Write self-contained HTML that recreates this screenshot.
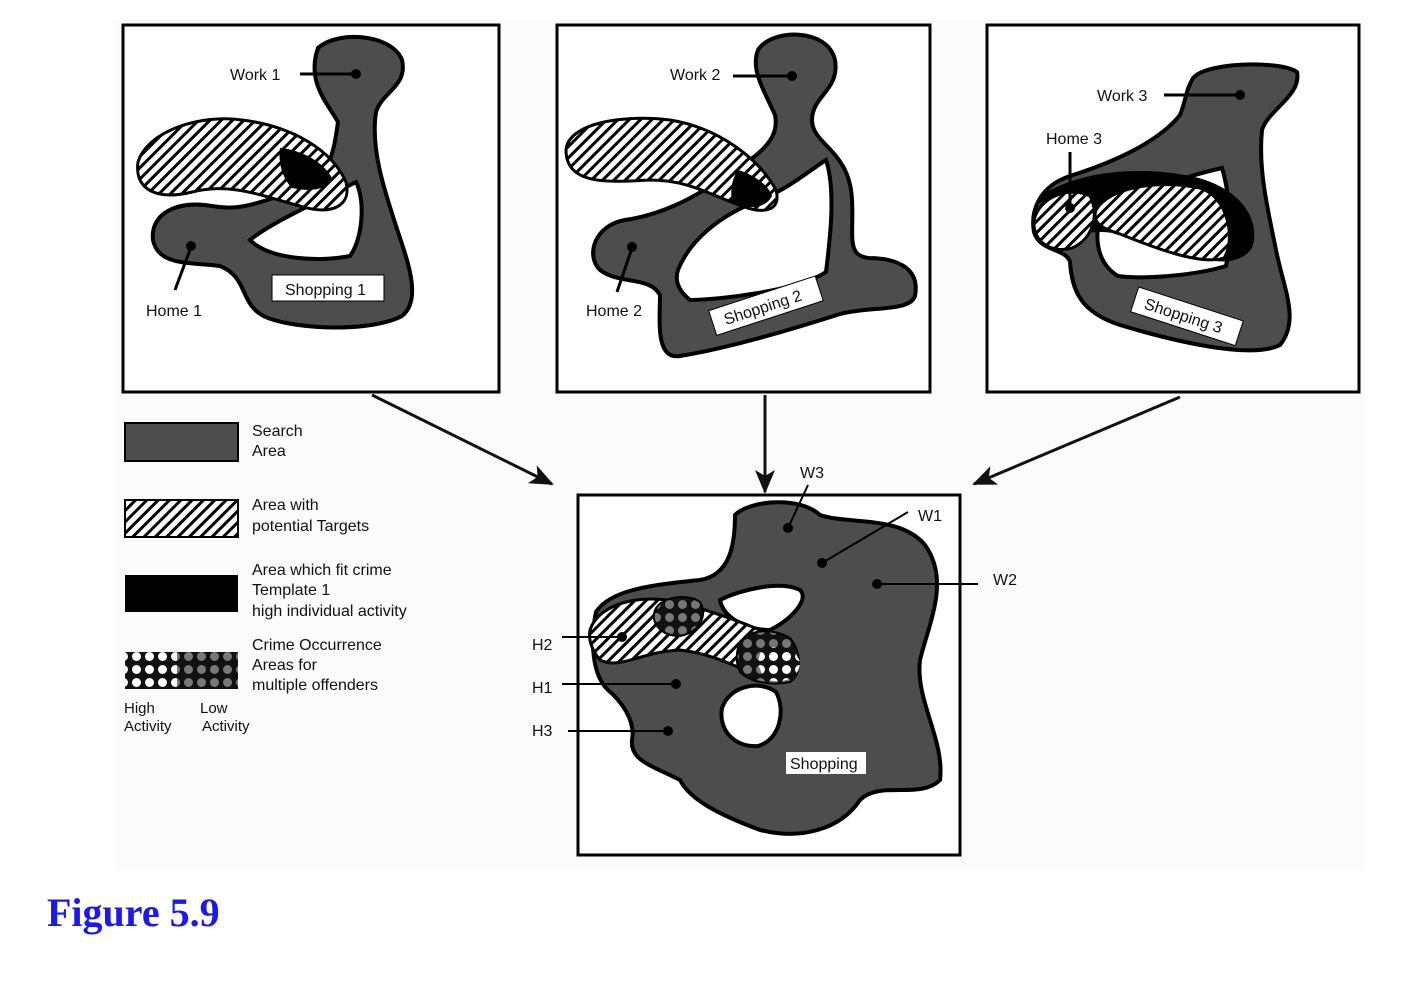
<!DOCTYPE html>
<html><head><meta charset="utf-8"><style>
html,body{margin:0;padding:0;background:#fff;}
svg text{font-family:"Liberation Sans",sans-serif;font-size:16px;fill:#111;}
.cap{font-family:"Liberation Serif",serif;font-weight:bold;font-size:40px;fill:#1a1aee;}
</style></head><body>
<svg width="1420" height="980" viewBox="0 0 1420 980" xmlns="http://www.w3.org/2000/svg">
<defs>
<pattern id="hatch" width="8" height="8" patternUnits="userSpaceOnUse" patternTransform="rotate(45)">
<rect width="8" height="8" fill="#fff"/><rect width="3" height="8" fill="#000"/>
</pattern>
<pattern id="dots" width="13" height="13" patternUnits="userSpaceOnUse">
<rect width="13" height="13" fill="#111"/><circle cx="6.5" cy="6.5" r="4.5" fill="#777"/>
</pattern>
<pattern id="wdots" width="13" height="13" patternUnits="userSpaceOnUse">
<rect width="13" height="13" fill="#111"/><circle cx="6.5" cy="6.5" r="4.5" fill="#fff"/>
</pattern>
<marker id="ah" markerWidth="24" markerHeight="20" refX="22" refY="10" orient="auto" markerUnits="userSpaceOnUse" viewBox="0 0 24 20">
<path d="M0,0 L24,10 L0,20 L6,10 Z" fill="#111"/></marker>
</defs>
<rect x="115" y="20" width="1250" height="850" fill="#fbfbfb"/>

<g>
<rect x="123" y="25" width="376" height="367" fill="#fff" stroke="#000" stroke-width="3"/>
<path fill-rule="evenodd" fill="#4d4d4d" stroke="#000" stroke-width="4" d="M318,48 C338,30 392,34 402,60 C408,86 382,92 376,112 C370,150 386,195 398,232 C408,262 422,300 402,316 C372,332 300,330 268,318 C238,306 250,278 220,266 C190,262 158,266 153,240 C150,214 176,200 212,206 C244,212 262,200 300,190 C330,180 334,150 338,122 C328,104 306,82 318,48 Z M250,240 C272,222 322,200 356,182 C366,202 362,240 350,256 C320,262 270,260 250,240 Z"/>
<path fill="url(#hatch)" stroke="#000" stroke-width="3" d="M138,162 C148,130 202,114 242,120 C292,126 332,150 346,182 C352,206 332,216 300,206 C262,196 230,182 192,192 C160,200 134,192 138,162 Z"/>
<path fill="#000" d="M280,148 C300,150 322,160 332,178 C328,190 310,192 292,188 C282,178 278,162 280,148 Z"/>
<line x1="300" y1="74" x2="356" y2="74" stroke="#000" stroke-width="3"/><circle cx="356" cy="74" r="5" fill="#000"/>
<line x1="175" y1="290" x2="191" y2="247" stroke="#000" stroke-width="3"/><circle cx="191" cy="246" r="5" fill="#000"/>
<text x="230" y="80">Work 1</text><text x="146" y="316">Home 1</text>
<rect x="272" y="275" width="112" height="26" fill="#fff" stroke="#000"/><text x="285" y="295">Shopping 1</text>
</g>

<g>
<rect x="557" y="25" width="373" height="367" fill="#fff" stroke="#000" stroke-width="3"/>
<path fill-rule="evenodd" fill="#4d4d4d" stroke="#000" stroke-width="4" d="M758,50 C772,28 828,28 835,60 C840,90 812,96 812,120 C812,145 850,150 852,200 C854,235 846,255 868,258 C900,258 920,270 915,296 C910,312 870,306 840,314 C790,330 730,348 680,356 C655,360 660,320 660,295 C650,276 620,285 600,270 C585,255 595,225 625,220 C660,215 690,200 720,180 C760,155 780,140 775,115 C765,92 750,70 758,50 Z M678,270 C690,240 720,215 760,200 C790,188 810,170 826,160 C836,190 830,240 826,272 C800,290 720,300 690,300 C680,292 674,282 678,270 Z"/>
<path fill="url(#hatch)" stroke="#000" stroke-width="3" d="M566,150 C568,124 620,114 670,120 C720,128 760,160 776,190 C782,212 762,214 742,206 C712,196 690,180 650,180 C610,182 566,186 566,150 Z"/>
<path fill="#000" d="M738,170 C752,174 768,184 772,196 C766,208 750,210 732,204 C730,190 732,178 738,170 Z"/>
<line x1="733" y1="76" x2="792" y2="76" stroke="#000" stroke-width="3"/><circle cx="792" cy="76" r="5" fill="#000"/>
<line x1="617" y1="292" x2="632" y2="248" stroke="#000" stroke-width="3"/><circle cx="632" cy="247" r="5" fill="#000"/>
<text x="670" y="80">Work 2</text><text x="586" y="316">Home 2</text>
<g transform="rotate(-18 765 306)"><rect x="710" y="293" width="112" height="26" fill="#fff" stroke="#000"/><text x="722" y="312">Shopping 2</text></g>
</g>

<g>
<rect x="987" y="25" width="372" height="367" fill="#fff" stroke="#000" stroke-width="3"/>
<path fill-rule="evenodd" fill="#4d4d4d" stroke="#000" stroke-width="4" d="M1192,80 C1200,62 1280,60 1297,72 C1302,95 1268,110 1262,130 C1258,170 1268,210 1276,250 C1284,290 1300,320 1280,345 C1250,360 1170,340 1120,325 C1080,312 1072,290 1070,262 C1066,248 1040,252 1034,232 C1030,210 1040,186 1070,176 C1120,160 1160,140 1180,115 C1186,100 1186,90 1192,80 Z M1100,218 C1120,200 1170,180 1222,168 C1232,200 1230,245 1226,266 C1200,274 1150,280 1118,276 C1098,264 1094,240 1100,218 Z"/>
<path fill="#000" d="M1040,196 C1080,170 1140,166 1190,176 C1240,186 1262,220 1252,248 C1240,266 1214,262 1200,258 C1170,250 1130,232 1100,232 C1070,234 1040,230 1040,196 Z"/>
<path fill="url(#hatch)" stroke="#000" stroke-width="3" d="M1096,210 C1110,186 1160,180 1200,188 C1228,196 1236,240 1224,258 C1200,266 1150,246 1120,234 C1100,228 1092,222 1096,210 Z"/>
<path fill="url(#hatch)" stroke="#000" stroke-width="3" d="M1034,220 C1040,196 1070,186 1090,196 C1100,215 1092,240 1072,248 C1052,254 1032,242 1034,220 Z"/>
<line x1="1164" y1="95" x2="1240" y2="95" stroke="#000" stroke-width="3"/><circle cx="1240" cy="95" r="5" fill="#000"/>
<line x1="1070" y1="152" x2="1070" y2="208" stroke="#000" stroke-width="3"/><circle cx="1070" cy="208" r="5" fill="#000"/>
<text x="1097" y="101">Work 3</text><text x="1046" y="144">Home 3</text>
<g transform="rotate(18 1186 316)"><rect x="1132" y="303" width="110" height="26" fill="#fff" stroke="#000"/><text x="1143" y="322">Shopping 3</text></g>
</g>

<line x1="372" y1="395" x2="552" y2="484" stroke="#111" stroke-width="3" marker-end="url(#ah)"/>
<line x1="765" y1="395" x2="765" y2="492" stroke="#111" stroke-width="3" marker-end="url(#ah)"/>
<line x1="1180" y1="397" x2="974" y2="484" stroke="#111" stroke-width="3" marker-end="url(#ah)"/>

<g>
<rect x="578" y="495" width="382" height="360" fill="#fff" stroke="#000" stroke-width="3"/>
<path fill-rule="evenodd" fill="#4d4d4d" stroke="#000" stroke-width="4" d="M735,515 C750,500 800,496 820,515 C850,525 900,515 925,545 C950,580 930,620 920,660 C915,700 945,740 940,780 C920,800 880,780 860,800 C840,830 800,840 760,830 C720,815 690,800 680,780 C650,765 630,760 632,740 C636,720 620,700 608,690 C592,675 590,640 596,612 C610,590 650,585 700,580 C730,575 735,545 735,515 Z M720,600 C740,590 780,580 800,590 C810,600 790,620 770,630 C750,630 724,620 720,600 Z M722,708 C730,685 760,680 776,692 C786,710 780,740 758,746 C735,748 718,730 722,708 Z"/>
<path fill="url(#hatch)" stroke="#000" stroke-width="3" d="M590,630 C600,600 650,592 690,605 C730,618 770,630 790,650 C800,670 790,690 770,680 C740,670 720,655 680,650 C640,652 620,670 600,660 C592,650 588,640 590,630 Z"/>
<path fill="url(#dots)" stroke="#000" stroke-width="2" d="M655,610 C662,595 690,594 700,602 C708,615 700,632 680,636 C662,636 650,624 655,610 Z"/>
<path fill="url(#dots)" stroke="#000" stroke-width="2" d="M738,648 C742,630 770,626 790,638 C802,652 802,675 790,682 C770,686 750,682 740,672 C736,664 736,656 738,648 Z"/>
<path fill="url(#wdots)" d="M762,650 C774,644 796,648 800,662 C800,678 784,684 768,680 C758,672 756,660 762,650 Z"/>
<circle cx="788" cy="528" r="5" fill="#000"/><circle cx="822" cy="563" r="5" fill="#000"/><circle cx="877" cy="584" r="5" fill="#000"/>
<circle cx="622" cy="637" r="5" fill="#000"/><circle cx="676" cy="684" r="5" fill="#000"/><circle cx="668" cy="731" r="5" fill="#000"/>
<line x1="788" y1="528" x2="808" y2="485" stroke="#000" stroke-width="2"/>
<line x1="822" y1="563" x2="908" y2="512" stroke="#000" stroke-width="2"/>
<line x1="877" y1="584" x2="978" y2="584" stroke="#000" stroke-width="2"/>
<line x1="562" y1="637" x2="622" y2="637" stroke="#000" stroke-width="2"/>
<line x1="562" y1="684" x2="676" y2="684" stroke="#000" stroke-width="2"/>
<line x1="568" y1="731" x2="668" y2="731" stroke="#000" stroke-width="2"/>
<text x="800" y="478">W3</text><text x="918" y="521">W1</text><text x="993" y="585">W2</text>
<text x="532" y="650">H2</text><text x="532" y="693">H1</text><text x="532" y="736">H3</text>
<rect x="786" y="752" width="80" height="22" fill="#fff"/><text x="790" y="769">Shopping</text>
</g>

<g>
<rect x="125" y="423" width="113" height="38" fill="#4d4d4d" stroke="#000" stroke-width="2"/>
<text x="252" y="436">Search</text><text x="252" y="456">Area</text>
<rect x="125" y="500" width="113" height="37" fill="url(#hatch)" stroke="#000" stroke-width="2"/>
<text x="252" y="510">Area with</text><text x="252" y="531">potential Targets</text>
<rect x="125" y="575" width="113" height="37" fill="#000"/>
<text x="252" y="575">Area which fit crime</text><text x="252" y="595">Template 1</text><text x="252" y="616">high individual activity</text>
<rect x="125" y="652" width="52" height="37" fill="url(#wdots)"/>
<rect x="177" y="652" width="61" height="37" fill="url(#dots)"/>
<text x="252" y="650">Crime Occurrence</text><text x="252" y="670">Areas for</text><text x="252" y="690">multiple offenders</text>
<text x="124" y="713" style="font-size:15px">High</text><text x="124" y="731" style="font-size:15px">Activity</text>
<text x="200" y="713" style="font-size:15px">Low</text><text x="202" y="731" style="font-size:15px">Activity</text>
</g>

<text x="47" y="926" class="cap">Figure 5.9</text>
</svg>
</body></html>
